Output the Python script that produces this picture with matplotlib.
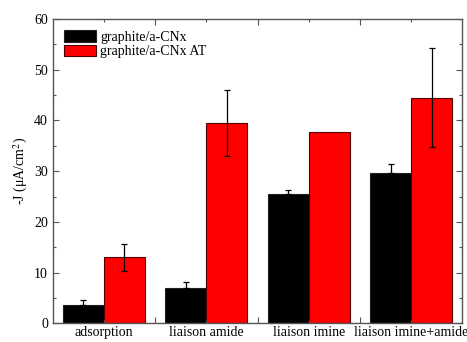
import numpy as np
import matplotlib
matplotlib.use('Agg')
import matplotlib.pyplot as plt

# values
categories = ['adsorption', 'liaison amide', 'liaison imine', 'liaison imine+amide']
cnx = [3.5, 7.0, 25.4, 29.7]
cnx_err = [1.1, 1.2, 0.8, 1.7]
cnx_at = [13.0, 39.5, 37.8, 44.5]
cnx_at_err = [2.7, 6.6, 0.0, 9.8]

plt.rcParams['font.family'] = ['Liberation Serif', 'DejaVu Serif']
plt.rcParams['mathtext.fontset'] = 'stix'

fig, ax = plt.subplots(figsize=(4.67, 3.42), dpi=100)
fig.subplots_adjust(left=0.113, right=0.99, top=0.944, bottom=0.055)

x = np.arange(len(categories))
w = 0.4
err_style = dict(ecolor='black', capsize=2.5, elinewidth=0.9, capthick=0.9)

ax.bar(x - w / 2, cnx, w, color='black', edgecolor='#222222', linewidth=0.8,
       yerr=[np.zeros(4), cnx_err], error_kw=err_style, label='graphite/a-CNx')
# red error bars only where there is one (imine has none)
ax.bar(x + w / 2, cnx_at, w, color='#ff0000', edgecolor='#550000', linewidth=0.8,
       label='graphite/a-CNx AT')
has_err = [i for i in range(4) if cnx_at_err[i] > 0]
ax.errorbar(x[has_err] + w / 2, np.array(cnx_at)[has_err], yerr=np.array(cnx_at_err)[has_err],
            fmt='none', **err_style)

ax.set_xlim(-0.5, 3.5)
ax.set_ylim(0, 60)
ax.set_xticks(x)
ax.set_xticklabels(categories, fontsize=10)
ax.set_xticks(x[:-1] + 0.5, minor=True)
ax.set_yticks(range(0, 61, 10))
ax.set_yticks(range(5, 60, 10), minor=True)
ax.tick_params(axis='y', labelsize=10)
ax.tick_params(which='both', direction='in', top=True, right=True, color='#555555')
ax.tick_params(which='major', length=4, width=0.8)
ax.tick_params(which='minor', length=2, width=0.8)
ax.tick_params(axis='x', which='major', length=2, pad=2)
ax.tick_params(axis='x', which='minor', length=4)
for s in ax.spines.values():
    s.set_color('#555555')
    s.set_linewidth(1.0)

ax.set_ylabel('-J (μA/cm$^2$)', fontsize=10, labelpad=3)

ax.legend(loc='upper left', fontsize=10, frameon=False, handlelength=2.3, handleheight=0.9,
          handletextpad=0.3, labelspacing=0.05, borderaxespad=0.4)

plt.savefig('out.png', dpi=100)
plt.close()
